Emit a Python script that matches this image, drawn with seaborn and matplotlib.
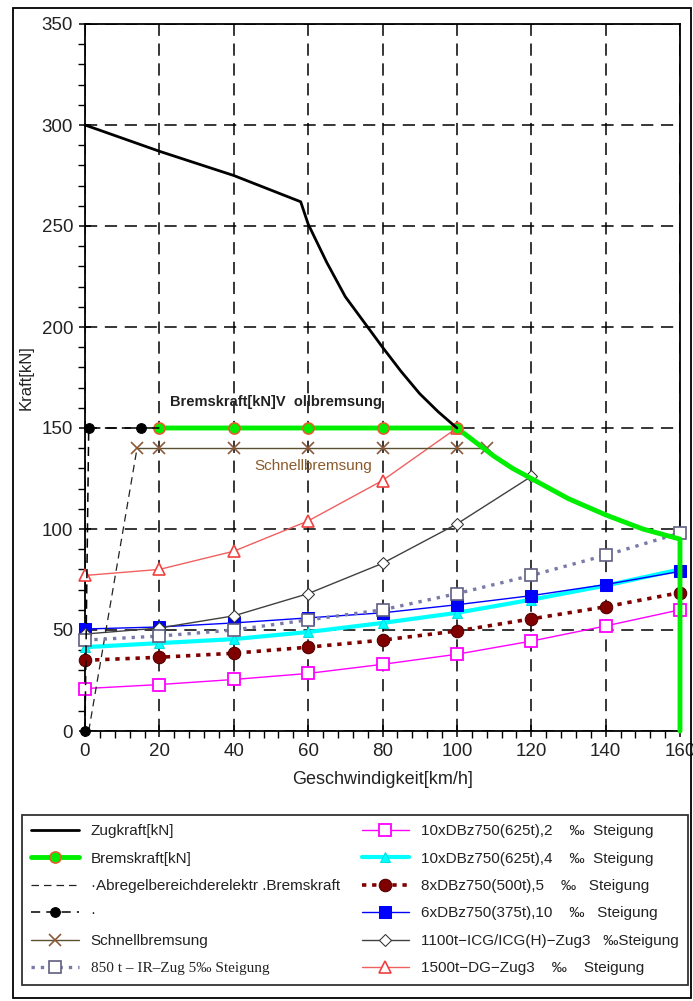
import matplotlib
matplotlib.use("Agg")
import matplotlib.pyplot as plt
from matplotlib.ticker import MultipleLocator
from matplotlib.patches import Rectangle
import seaborn as sns

# ---------------- data ----------------
zug_x = [0, 20, 40, 58, 60, 65, 70, 76, 80, 85, 90, 95, 100]
zug_y = [300, 287, 275, 262, 251, 232, 215, 200, 190, 178, 167, 158, 150]

brems_x = [20, 40, 60, 80, 100, 105, 110, 115, 120, 130, 140, 150, 160, 160]
brems_y = [150, 150, 150, 150, 150, 143, 136, 130, 125, 115, 107, 100, 95, 0]

abregel_x = [1, 14]
abregel_y = [0, 140]

dot_x = [0, 1, 15, 20]
dot_y = [0, 150, 150, 150]

schnell_x = [14, 20, 40, 60, 80, 100, 108]
schnell_y = [140, 140, 140, 140, 140, 140, 140]

v_x = [0, 20, 40, 60, 80, 100, 120, 140, 160]
ir850 = [45, 47, 50, 55, 60, 68, 77, 87, 98]
dbz10_2 = [21, 23, 25.5, 28.5, 33, 38, 44.5, 52, 60]
dbz10_4 = [41.5, 43.5, 45.5, 49, 53.5, 58.5, 65, 72, 80]
dbz8_5 = [35, 36.5, 38.5, 41.5, 45, 49.5, 55.5, 61.5, 68.5]
dbz6_10 = [50.5, 51.5, 53.5, 56, 58.5, 62.5, 67, 72.5, 79]

icg_x = [0, 20, 40, 60, 80, 100, 120]
icg_y = [48, 51, 57, 68, 83, 102.5, 126]

dg_x = [0, 20, 40, 60, 80, 100]
dg_y = [77, 80, 89, 104, 124, 150]

labels = [
    "Zugkraft[kN]",
    "Bremskraft[kN]",
    "\u00b7Abregelbereichderelektr .Bremskraft",
    "\u00b7",
    "Schnellbremsung",
    "850 t \u2013 IR\u2013Zug 5\u2030 Steigung",
    "10xDBz750(625t),2    \u2030  Steigung",
    "10xDBz750(625t),4    \u2030  Steigung",
    "8xDBz750(500t),5    \u2030   Steigung",
    "6xDBz750(375t),10    \u2030   Steigung",
    "1100t\u2212ICG/ICG(H)\u2212Zug3   \u2030Steigung",
    "1500t\u2212DG\u2212Zug3    \u2030    Steigung",
]
x_ticks = [0, 20, 40, 60, 80, 100, 120, 140, 160]
y_ticks = [0, 50, 100, 150, 200, 250, 300, 350]

# ---------------- style ----------------
sns.set_theme(style="white")
plt.rcParams["font.family"] = ["Liberation Sans", "DejaVu Sans"]

fig = plt.figure(figsize=(6.93, 10.01), dpi=100)
ax = fig.add_axes([85 / 693, 1 - 731 / 1001, (680 - 85) / 693, (731 - 24) / 1001])

common = dict(ax=ax, estimator=None, sort=False, legend=False, clip_on=False)

h = {}
h[6] = sns.lineplot(x=v_x, y=dbz10_2, color="#ff00ff", lw=1, marker="s", ms=9,
                    mfc="white", mec="#ff00ff", mew=1.3, zorder=3, **common).lines[-1]
h[8] = sns.lineplot(x=v_x, y=dbz8_5, color="#800000", lw=2.6, ls=(0, (1.2, 1.6)), marker="o",
                    ms=9, mfc="#800000", mec="#500000", zorder=3, **common).lines[-1]
h[7] = sns.lineplot(x=v_x, y=dbz10_4, color="#00ffff", lw=3, marker="^", ms=7,
                    mfc="#00ffff", mec="#00e0e0", zorder=3, **common).lines[-1]
h[9] = sns.lineplot(x=v_x, y=dbz6_10, color="#0000ff", lw=1, marker="s", ms=8,
                    mfc="#0000ff", mec="#0000ff", zorder=3, **common).lines[-1]
h[5] = sns.lineplot(x=v_x, y=ir850, color="#7a7aa8", lw=2.4, ls=(0, (1.0, 1.8)), marker="s", ms=9,
                    mfc="white", mec="#5f5f80", mew=1.2, zorder=3.5, **common).lines[-1]
h[10] = sns.lineplot(x=icg_x, y=icg_y, color="#404040", lw=1, marker="D", ms=6,
                     mfc="white", mec="#303030", zorder=3, **common).lines[-1]
h[11] = sns.lineplot(x=dg_x, y=dg_y, color="#f06060", lw=1, marker="^", ms=9,
                     mfc="white", mec="#f04040", mew=1.2, zorder=3, **common).lines[-1]
h[2] = sns.lineplot(x=abregel_x, y=abregel_y, color="#222222", lw=0.9, ls=(0, (6, 4)),
                    zorder=3, **common).lines[-1]
h[4] = sns.lineplot(x=schnell_x, y=schnell_y, color="#5a5030", lw=1, marker="x", ms=8,
                    mec="#8b5a3a", mew=1.2, zorder=3, **common).lines[-1]
h[1] = sns.lineplot(x=brems_x, y=brems_y, color="#00ee00", lw=3.5, marker="o", ms=8,
                    mfc="#00ee00", mec="#e06030", mew=1.2, markevery=[0, 1, 2, 3, 4],
                    zorder=4, **common).lines[-1]
h[3] = sns.lineplot(x=dot_x, y=dot_y, color="black", lw=1.1, ls=(0, (6, 4)), marker="o", ms=7,
                    mfc="black", mec="black", markevery=[0, 1, 2], zorder=4, **common).lines[-1]
h[0] = sns.lineplot(x=zug_x, y=zug_y, color="black", lw=2, zorder=5, **common).lines[-1]

# ---------------- axes ----------------
ax.set_xlim(0, 160)
ax.set_ylim(0, 350)
ax.set_xticks(x_ticks)
ax.set_yticks(y_ticks)
ax.xaxis.set_minor_locator(MultipleLocator(4))
ax.yaxis.set_minor_locator(MultipleLocator(10))
ax.tick_params(which="major", direction="inout", length=9, width=1.1, colors="black",
               labelsize=13.5, pad=4, bottom=True, left=True)
ax.tick_params(which="minor", direction="out", length=5, width=1, colors="black",
               bottom=True, left=True)
for t in ax.get_xticklabels() + ax.get_yticklabels():
    t.set_color("#222222")
ax.grid(True, which="major", color="black", linestyle=(0, (8, 5)), linewidth=1.1)
ax.set_axisbelow(True)
for s in ax.spines.values():
    s.set_color("black")
    s.set_linewidth(1.3)
    s.set_visible(True)
ax.set_facecolor("white")
ax.set_xlabel("Geschwindigkeit[km/h]", fontsize=13, labelpad=8, color="#222222")
ax.set_ylabel("Kraft[kN]", fontsize=12, labelpad=6, color="#222222")

ax.text(22.9, 163, "Bremskraft[kN]V  ollbremsung", fontsize=10.5, fontweight="bold",
        color="#222222", va="center", ha="left")
ax.text(45.5, 131, "Schnellbremsung", fontsize=11, color="#8b5a2b",
        va="center", ha="left")

# ---------------- legend ----------------
handles = [h[i] for i in range(12)]
leg = fig.legend(handles, labels, ncol=2, loc="upper left",
                 bbox_to_anchor=(22 / 693, 1 - 815 / 1001, (688 - 22) / 693, 0.0),
                 mode="expand", frameon=True, fancybox=False, edgecolor="black",
                 fontsize=11, labelspacing=0.88, handlelength=3.1, handletextpad=0.8,
                 borderpad=0.6, columnspacing=1.0, borderaxespad=0)
leg.get_frame().set_linewidth(1.3)
for t in leg.get_texts():
    t.set_color("#222222")
leg.get_texts()[5].set_family(["Liberation Serif", "DejaVu Serif"])

fig.patches.append(Rectangle((13 / 693, 1 - 998 / 1001), (691 - 13) / 693, (998 - 8) / 1001,
                             transform=fig.transFigure, fill=False, edgecolor="black",
                             linewidth=1.3))

fig.savefig("out.png", dpi=100, facecolor="white")
